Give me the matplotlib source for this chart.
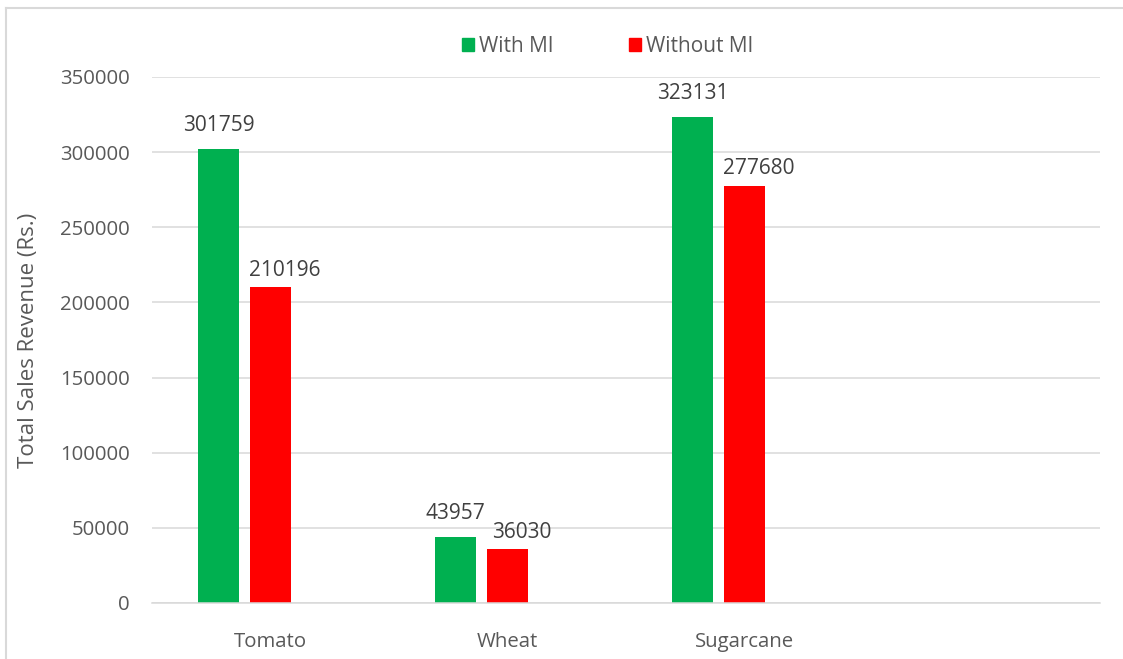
import numpy as np
import matplotlib
matplotlib.use('Agg')
import matplotlib.pyplot as plt
from matplotlib.patches import Patch
from matplotlib.lines import Line2D

plt.rcParams['font.family'] = ['Open Sans', 'DejaVu Sans']

# data
crops = ['Tomato', 'Wheat', 'Sugarcane', '']
with_mi = [301759, 43957, 323131]
without_mi = [210196, 36030, 277680]
series_names = ['With MI', 'Without MI']
colors = ['#00B050', '#FF0000']

text_col = '#595959'
grid_col = '#D9D9D9'

fig = plt.figure(figsize=(11.23, 6.59), dpi=100)
ax = fig.add_axes([152 / 1123, 1 - 603 / 659, 948 / 1123, 526 / 659])

x = np.arange(len(with_mi))
width = 41 / 237
step = 52 / 237

bars1 = ax.bar(x - step, with_mi, width, color=colors[0], zorder=3)
bars2 = ax.bar(x, without_mi, width, color=colors[1], zorder=3)

# value labels above the bars (excel nudged the red ones a bit)
for bars, off in ((bars1, (0, 9.5)), (bars2, (10, 4.5))):
    for b in bars:
        ax.annotate(str(int(b.get_height())),
                    (b.get_x() + b.get_width() / 2, b.get_height()),
                    xytext=off, textcoords='offset points',
                    ha='center', va='bottom', fontsize=15, color='#404040')

ax.set_xlim(-0.5, len(crops) - 0.5)
ax.set_ylim(0, 350000)
ax.set_yticks(np.arange(0, 350001, 50000))
ax.set_xticks(np.arange(len(crops)))
ax.set_xticklabels(crops)

ax.grid(axis='y', color=grid_col, linewidth=1.1, zorder=0)
for s in ['top', 'right', 'left']:
    ax.spines[s].set_visible(False)
ax.spines['bottom'].set_color(grid_col)
ax.spines['bottom'].set_linewidth(1.1)
ax.spines['bottom'].set_zorder(4)

ax.tick_params(axis='both', length=0, labelsize=14.7, colors=text_col)
ax.tick_params(axis='x', pad=21)
ax.tick_params(axis='y', pad=16)

ax.set_ylabel('Total Sales Revenue (Rs.)', fontsize=16, color=text_col)
ax.yaxis.set_label_coords((29 - 152) / 948, 0.5)
ax.yaxis.label.set_va('center')

handles = [Patch(color=c) for c in colors]
fig.legend(handles, series_names, loc='center', ncol=2,
           bbox_to_anchor=(0.541, 1 - 46 / 659), frameon=False,
           fontsize=15, labelcolor=text_col,
           handlelength=0.58, handleheight=0.58, handletextpad=0.25,
           columnspacing=3.6)

# chart border (cropped on right and bottom)
fig.add_artist(Line2D([6 / 1123, 6 / 1123], [0, 1 - 8 / 659],
                      transform=fig.transFigure, color=grid_col, lw=1.5))
fig.add_artist(Line2D([6 / 1123, 1], [1 - 8 / 659, 1 - 8 / 659],
                      transform=fig.transFigure, color=grid_col, lw=1.5))

fig.savefig('out.png', dpi=100, facecolor='white')
